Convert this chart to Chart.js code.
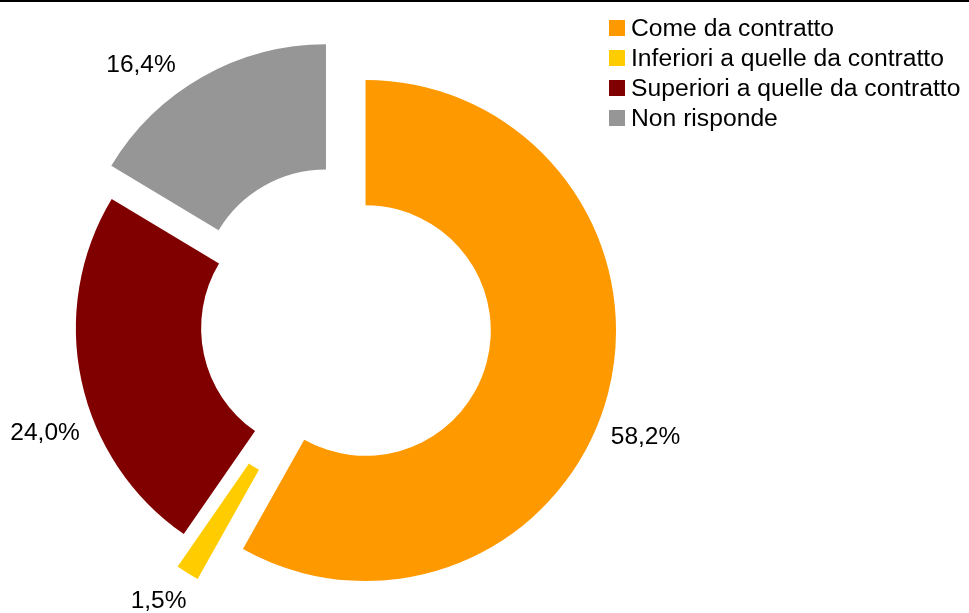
<!DOCTYPE html>
<html>
<head>
<meta charset="utf-8">
<script src="https://cdn.jsdelivr.net/npm/chart.js@4.4.1/dist/chart.umd.min.js"></script>
<style>
  html, body { margin: 0; padding: 0; background: #fff; }
  #wrap { position: relative; width: 969px; height: 613px; overflow: hidden;
          font-family: "Liberation Sans", Arial, sans-serif; }
  #topRule { position: absolute; left: 0; top: 0; width: 969px; height: 2px; background: #000; }
  #legend { position: absolute; left: 609px; top: 13px; }
  .row { display: flex; align-items: center; height: 30px; font-size: 24.7px; color: #000; white-space: nowrap; }
  .sw { width: 16px; height: 16px; margin-right: 6px; flex: none; }
</style>
</head>
<body>
<div id="wrap">
  <canvas id="chart" width="969" height="613"></canvas>
  <div id="topRule"></div>
  <div id="legend"></div>
</div>
<script>
// Survey answers (percent of respondents)
const categories = [
  'Come da contratto',
  'Inferiori a quelle da contratto',
  'Superiori a quelle da contratto',
  'Non risponde'
];
const shares = [58.2, 1.5, 24.0, 16.4];
const sliceColors = ['#FF9900', '#FFCC00', '#800000', '#969696'];

// How far (px) each slice is pulled away from the centre
const explodePx = [23.5, 42.5, 16.8, 34.2];
// Value label anchors: [degrees clockwise from 12 o'clock, distance from centre in px]
const labelPolar = [[110.4, 323], [213.7, 332], [249.9, 317], [322.1, 328.5]];

const FONT = '"Liberation Sans", Arial, sans-serif';

// Pull each slice outward along its mid-angle while it is drawn, keeping its radii and angles intact.
const explodeSlices = {
  id: 'explodeSlices',
  beforeDatasetsDraw(chart) {
    chart.getDatasetMeta(0).data.forEach((arc, i) => {
      const mid = (arc.startAngle + arc.endAngle) / 2;
      arc._dx = Math.cos(mid) * explodePx[i];
      arc._dy = Math.sin(mid) * explodePx[i];
      arc.x += arc._dx;
      arc.y += arc._dy;
    });
  },
  afterDatasetsDraw(chart) {
    chart.getDatasetMeta(0).data.forEach(arc => {
      arc.x -= arc._dx || 0;
      arc.y -= arc._dy || 0;
      arc._dx = arc._dy = 0;
    });
  }
};

// Percent labels outside the ring
const valueLabels = {
  id: 'valueLabels',
  afterDatasetsDraw(chart) {
    const ctx = chart.ctx;
    const arcs = chart.getDatasetMeta(0).data;
    ctx.save();
    ctx.font = '24.5px ' + FONT;
    ctx.fillStyle = '#000';
    ctx.textAlign = 'center';
    ctx.textBaseline = 'middle';
    arcs.forEach((arc, i) => {
      const [deg, dist] = labelPolar[i];
      const a = deg * Math.PI / 180;
      const x = arc.x + dist * Math.sin(a);
      const y = arc.y - dist * Math.cos(a);
      ctx.fillText(shares[i].toFixed(1).replace('.', ',') + '%', x, y);
    });
    ctx.restore();
  }
};

new Chart(document.getElementById('chart'), {
  type: 'doughnut',
  data: {
    labels: categories,
    datasets: [{
      data: shares,
      backgroundColor: sliceColors,
      borderWidth: 0,
      clip: false
    }]
  },
  options: {
    responsive: false,
    animation: false,
    events: [],
    rotation: 0,
    radius: 250.5,
    cutout: '50%',
    layout: { padding: { left: 0, right: 283.4, top: 40, bottom: 3.8 } },
    plugins: { legend: { display: false }, tooltip: { enabled: false } }
  },
  plugins: [explodeSlices, valueLabels]
});

// Legend
const legend = document.getElementById('legend');
categories.forEach((name, i) => {
  const row = document.createElement('div');
  row.className = 'row';
  const sw = document.createElement('span');
  sw.className = 'sw';
  sw.style.background = sliceColors[i];
  const txt = document.createElement('span');
  txt.textContent = name;
  row.appendChild(sw);
  row.appendChild(txt);
  legend.appendChild(row);
});
</script>
</body>
</html>
